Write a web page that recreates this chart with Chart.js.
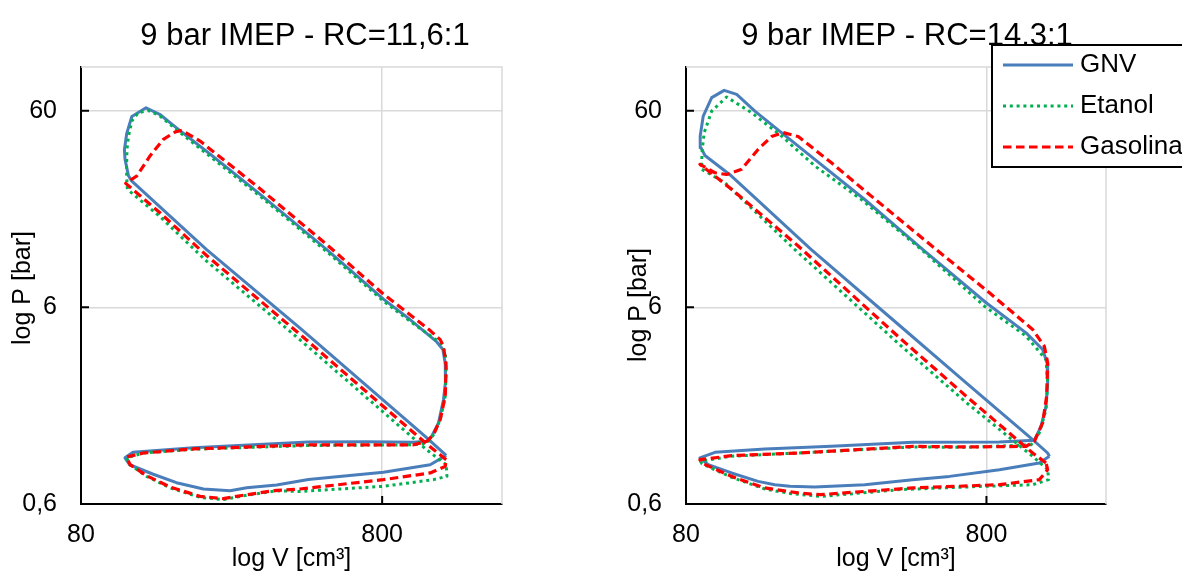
<!DOCTYPE html>
<html><head><meta charset="utf-8">
<script src="https://cdn.jsdelivr.net/npm/chart.js@4.4.1/dist/chart.umd.min.js"></script>
<style>
html,body{margin:0;padding:0;background:#fff;}
#wrap{position:relative;width:1182px;height:574px;overflow:hidden;background:#fff;}
.box{position:absolute;top:0;width:591px;height:574px;}
</style></head><body>
<div id="wrap">
<div class="box" style="left:0"><canvas id="c1"></canvas></div>
<div class="box" style="left:591px"><canvas id="c2"></canvas></div>
</div>
<script>
// ---------- data ----------
const chartTitles = ['9 bar IMEP - RC=11,6:1', '9 bar IMEP - RC=14,3:1'];
const seriesNames = ['GNV', 'Etanol', 'Gasolina'];
const xTickValues = [80, 800];
const yTickValues = [0.6, 6, 60];
const xTitle = 'log V [cm³]';
const yTitle = 'log P [bar]';

// RC = 11,6:1  (V in cm³, P in bar)
const vGNV_116 = [1305,1126,427,209,118,115,112,111.5,113.5,118,131.5,146,166,215,315,524,808,990,1215,1273,1296,1298,1279,1231,1170,1126,1016,712,455,189,119,112,116,139,166,204,250,284,357,455,808,1155,1305];
const pGNV_116 = [1.06,1.30,4.7,11.8,26.3,28,34,38,46,56,62,57.5,49,36,22.5,11.8,6.6,5.2,4.0,3.66,3.1,2.5,2.04,1.55,1.33,1.25,1.235,1.245,1.24,1.16,1.10,1.03,0.95,0.85,0.77,0.715,0.70,0.725,0.75,0.80,0.87,0.95,1.06];
const vEtanol_116 = [1305,1126,427,209,146,114,113.7,113.3,113.7,115,118,124,134,146,166,215,315,524,808,990,1247,1296,1305,1296,1247,1184,1126,1016,455,189,129,113.4,116.4,132,158,199,238,284,357,427,808,1184,1313,1305];
const pEtanol_116 = [0.95,1.13,4.1,10.3,17.4,23.9,25.9,30.2,38.1,44.4,53.1,58.6,60,56.5,48,35,22,11.5,6.45,5.1,3.96,3.52,3.01,2.12,1.61,1.35,1.22,1.20,1.19,1.14,1.09,1.03,0.95,0.83,0.725,0.648,0.632,0.665,0.70,0.695,0.738,0.798,0.83,0.95];
const vGasolina_116 = [1305,1126,427,209,146,112.6,122.5,135.6,150.2,164.2,172.9,198.8,306.8,524,808,990,1155,1247,1279,1305,1296,1247,1184,1126,1016,455,189,128.9,113.4,116.4,132.2,158,198.8,237.6,284,357,427,808,1155,1296,1305];
const pGasolina_116 = [1.008,1.21,4.37,11.0,18.2,25.6,27.9,35.3,42.9,46.7,47.6,42.0,24.8,12.5,7.0,5.5,4.57,4.11,3.80,3.01,2.12,1.61,1.35,1.25,1.20,1.20,1.143,1.09,1.04,0.951,0.836,0.732,0.656,0.639,0.669,0.704,0.715,0.798,0.863,0.932,1.008];

// RC = 14,3:1
const vGNV_143 = [1296,1279,1140,685,411,209,113.4,92.5,89.7,89.2,91.3,97.4,107.2,118,135.6,166.3,214.6,314.7,491.6,798,1084,1231,1273,1279,1263,1215,1155,884,455,243.9,146.4,99.9,89.0,94.9,113.4,139,158,177.3,214.6,314.7,455,603,884,1200,1296];
const pGNV_143 = [1.048,1.09,1.275,2.48,4.85,11.8,27.9,35.5,38.9,44.6,56.3,69.9,76.1,72.6,59.7,46.4,33.9,21.2,11.8,6.33,4.45,3.66,3.13,2.48,1.883,1.49,1.265,1.24,1.235,1.178,1.143,1.099,1.03,0.951,0.863,0.782,0.752,0.738,0.732,0.752,0.798,0.829,0.897,0.970,1.048];
const vEtanol_143 = [1279,1140,685,411,184.2,107.8,90.2,90.2,90.6,92.0,97.4,109.2,132.2,166.3,214.6,306.8,485.6,788,1084,1263,1279,1263,1200,1126,685,455,189,113.4,89.5,90.4,113.4,146.4,179.6,225.9,411,778,1140,1289,1279];
const pEtanol_143 = [0.897,1.048,1.97,3.88,11.8,25.8,30.2,32.6,38.1,46.4,59.7,70.4,58.6,44.6,31.4,21.2,11.8,6.08,4.28,3.25,2.48,1.81,1.379,1.20,1.165,1.17,1.09,1.05,0.99,0.96,0.82,0.715,0.677,0.656,0.71,0.738,0.752,0.798,0.897];
const vGasolina_143 = [1263,1140,685,411,189,113.4,89.0,99.9,109.2,122.5,139,154.1,168.4,189,243.9,310.6,544.5,818.6,1140,1247,1279,1269,1231,1155,1084,685,455,189,113.4,89.0,90.2,113.4,146.4,189,223,314.7,455,884,1200,1279,1263];
const pGasolina_143 = [0.970,1.09,2.12,4.20,12.3,23.9,32.0,29.0,28.4,30.2,38.1,44.3,46.4,44.3,32.6,23.9,11.8,7.11,4.63,3.80,3.13,2.12,1.55,1.25,1.178,1.17,1.178,1.09,1.057,1.008,0.970,0.829,0.724,0.683,0.669,0.695,0.724,0.752,0.798,0.897,0.970];

// ---------- styling ----------
const FONT = "'Liberation Sans', Arial, sans-serif";
Chart.defaults.font.family = FONT;
Chart.defaults.color = '#000';

const styles = [
  { color: '#4a7ebb', dash: [], width: 3, order: 2 },
  { color: '#00b050', dash: [3, 3.8], width: 3, order: 1 },
  { color: '#ff0000', dash: [8.5, 4.5], width: 3.2, order: 0 }
];

const fmt = v => String(v).replace('.', ',');
const pts = (V, P) => V.map((v, i) => ({ x: v, y: P[i] }));

function makeDatasets(list) {
  return list.map((s, i) => ({
    label: seriesNames[i],
    data: pts(s[0], s[1]),
    showLine: true,
    fill: false,
    tension: 0,
    pointRadius: 0,
    pointHoverRadius: 0,
    borderColor: styles[i].color,
    backgroundColor: styles[i].color,
    borderWidth: styles[i].width,
    borderDash: styles[i].dash,
    borderCapStyle: 'butt',
    borderJoinStyle: 'round',
    order: styles[i].order
  }));
}

const decor = {
  id: 'decor',
  beforeDatasetsDraw(chart, args, o) {
    const { ctx, chartArea: a, scales } = chart;
    ctx.save();
    ctx.strokeStyle = '#d9d9d9';
    ctx.lineWidth = 1.5;
    ctx.beginPath();
    ctx.moveTo(a.left, a.top); ctx.lineTo(a.right, a.top); ctx.lineTo(a.right, a.bottom);
    ctx.stroke();
    ctx.strokeStyle = '#000';
    ctx.lineWidth = 2;
    ctx.beginPath();
    yTickValues.forEach(v => { const y = scales.y.getPixelForValue(v); ctx.moveTo(a.left, y); ctx.lineTo(a.left + 8, y); });
    xTickValues.forEach(v => { const x = scales.x.getPixelForValue(v); ctx.moveTo(x, a.bottom); ctx.lineTo(x, a.bottom - 8); });
    ctx.stroke();
    ctx.restore();
  },
  afterDraw(chart, args, o) {
    const { ctx } = chart;
    ctx.save();
    ctx.fillStyle = '#000';
    ctx.textBaseline = 'middle';
    ctx.textAlign = 'center';
    ctx.font = `31px ${FONT}`;
    ctx.fillText(o.title, o.titleX, o.titleY);
    ctx.save();
    ctx.translate(o.yTitleX, o.yTitleY);
    ctx.rotate(-Math.PI / 2);
    ctx.font = `25px ${FONT}`;
    ctx.fillText(yTitle, 0, 0);
    ctx.restore();
    if (o.legend) {
      const L = o.legend;
      ctx.fillStyle = '#fff';
      ctx.fillRect(L.x, L.y, L.w, L.h);
      ctx.strokeStyle = '#000';
      ctx.lineWidth = 2;
      ctx.strokeRect(L.x, L.y, L.w, L.h);
      chart.data.datasets.forEach((ds, i) => {
        const y = L.y + L.first + i * L.step;
        ctx.save();
        ctx.strokeStyle = ds.borderColor;
        ctx.lineWidth = ds.borderWidth;
        ctx.setLineDash(ds.borderDash);
        ctx.beginPath();
        ctx.moveTo(L.x + 11, y); ctx.lineTo(L.x + 81, y);
        ctx.stroke();
        ctx.restore();
        ctx.fillStyle = '#000';
        ctx.textAlign = 'left';
        ctx.font = `26px ${FONT}`;
        ctx.fillText(ds.label, L.x + 88, y);
      });
    }
    ctx.restore();
  }
};

function makeChart(id, series, cfg) {
  return new Chart(document.getElementById(id), {
    type: 'scatter',
    data: { datasets: makeDatasets(series) },
    plugins: [decor],
    options: {
      responsive: true,
      maintainAspectRatio: false,
      animation: false,
      devicePixelRatio: 1,
      layout: { padding: { left: 0, right: cfg.padRight, top: 67, bottom: 0 } },
      plugins: {
        legend: { display: false },
        tooltip: { enabled: false },
        title: { display: false },
        decor: cfg.decor
      },
      scales: {
        x: {
          type: 'logarithmic', position: 'bottom', min: 80, max: 2000,
          afterBuildTicks: s => { s.ticks = xTickValues.map(v => ({ value: v })); },
          afterFit: s => { s.height = 70; },
          ticks: { autoSkip: false, maxRotation: 0, padding: 16, color: '#000', font: { size: 25 }, callback: v => fmt(v) },
          grid: { color: '#d9d9d9', lineWidth: 1.5, drawTicks: false },
          border: { color: '#000', width: 2 },
          title: { display: true, text: xTitle, color: '#000', font: { size: 25 }, padding: { top: 0, bottom: 0 } }
        },
        y: {
          type: 'logarithmic', position: 'left', min: 0.6, max: 100,
          afterBuildTicks: s => { s.ticks = yTickValues.map(v => ({ value: v })); },
          afterFit: s => { s.width = cfg.plotLeft; },
          ticks: { autoSkip: false, padding: 24, color: '#000', font: { size: 25 }, callback: v => fmt(v) },
          grid: { color: '#d9d9d9', lineWidth: 1.5, drawTicks: false },
          border: { color: '#000', width: 2 }
        }
      }
    }
  });
}

makeChart('c1',
  [[vGNV_116, pGNV_116], [vEtanol_116, pEtanol_116], [vGasolina_116, pGasolina_116]],
  { plotLeft: 81, padRight: 89,
    decor: { title: chartTitles[0], titleX: 305, titleY: 36, yTitleX: 23, yTitleY: 288 } });

makeChart('c2',
  [[vGNV_143, pGNV_143], [vEtanol_143, pEtanol_143], [vGasolina_143, pGasolina_143]],
  { plotLeft: 95, padRight: 76,
    decor: { title: chartTitles[1], titleX: 316, titleY: 36, yTitleX: 48, yTitleY: 305,
             legend: { x: 401, y: 45, w: 200, h: 122, first: 20, step: 41 } } });
</script>
</body></html>
